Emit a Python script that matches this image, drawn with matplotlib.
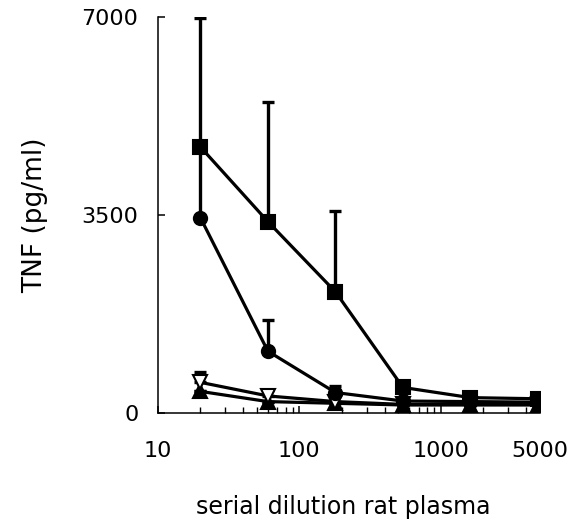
import matplotlib
matplotlib.use("Agg")
import matplotlib.pyplot as plt
from matplotlib.ticker import FixedLocator, LogLocator, NullFormatter

# serial 3-fold dilutions of rat plasma
dilution = [20, 60, 180, 540, 1620, 4860]

# TNF (pg/ml)
tnf_square = [4700, 3380, 2140, 450, 270, 250]
err_square = [2280, 2120, 1420, 0, 0, 0]

tnf_circle = [3450, 1090, 360, 210, 200, 190]
err_circle = [1250, 560, 120, 0, 0, 0]

tnf_tri_open = [540, 300, 200, 150, 150, 150]
err_tri_open = [190, 110, 0, 0, 0, 0]

tnf_tri_fill = [380, 200, 170, 140, 140, 140]
err_tri_fill = [0, 0, 0, 0, 0, 0]

y_ticks = [0, 3500, 7000]
x_ticks = [10, 100, 1000, 5000]
x_ticklabels = ["10", "100", "1000", "5000"]

INK = "black"

fig = plt.figure(figsize=(5.76, 5.26), dpi=100)
ax = fig.add_axes([0.274, 0.215, 0.663, 0.753])

series = [
    (tnf_tri_fill, err_tri_fill, "^", INK),
    (tnf_tri_open, err_tri_open, "v", "white"),
    (tnf_circle, err_circle, "o", INK),
    (tnf_square, err_square, "s", INK),
]
for vals, err, marker, face in series:
    zeros = [0] * len(err)
    ax.errorbar(dilution, vals, yerr=[zeros, err], fmt="none", ecolor=INK,
                elinewidth=2.4, capsize=4, capthick=2.4, zorder=2)
    ax.plot(dilution, vals, color=INK, linewidth=2.3, marker=marker,
            markersize=9.5, markerfacecolor=face, markeredgecolor=INK,
            markeredgewidth=1.5, zorder=3)

ax.set_xscale("log")
ax.set_xlim(10, 5000)
ax.set_ylim(0, 7000)
ax.xaxis.set_major_locator(FixedLocator(x_ticks))
ax.set_xticklabels(x_ticklabels)
ax.xaxis.set_minor_locator(LogLocator(base=10, subs=range(2, 10)))
ax.xaxis.set_minor_formatter(NullFormatter())
ax.set_yticks(y_ticks)
ax.set_yticklabels([str(v) for v in y_ticks])

for s in ("top", "right"):
    ax.spines[s].set_visible(False)
for s in ("left", "bottom"):
    ax.spines[s].set_linewidth(1.1)
    ax.spines[s].set_color(INK)

ax.tick_params(axis="both", which="major", direction="in", length=5,
               width=1.1, labelsize=16, colors=INK)
ax.tick_params(axis="x", which="minor", direction="in", length=4, width=1.0)
ax.tick_params(axis="x", which="major", pad=20)
ax.tick_params(axis="y", which="major", pad=14)

ax.set_ylabel("TNF (pg/ml)", fontsize=19, labelpad=24)
fig.text(0.596, 0.036, "serial dilution rat plasma", fontsize=17,
         ha="center", va="center", color=INK)

fig.savefig("out.png", dpi=100, facecolor="white")
